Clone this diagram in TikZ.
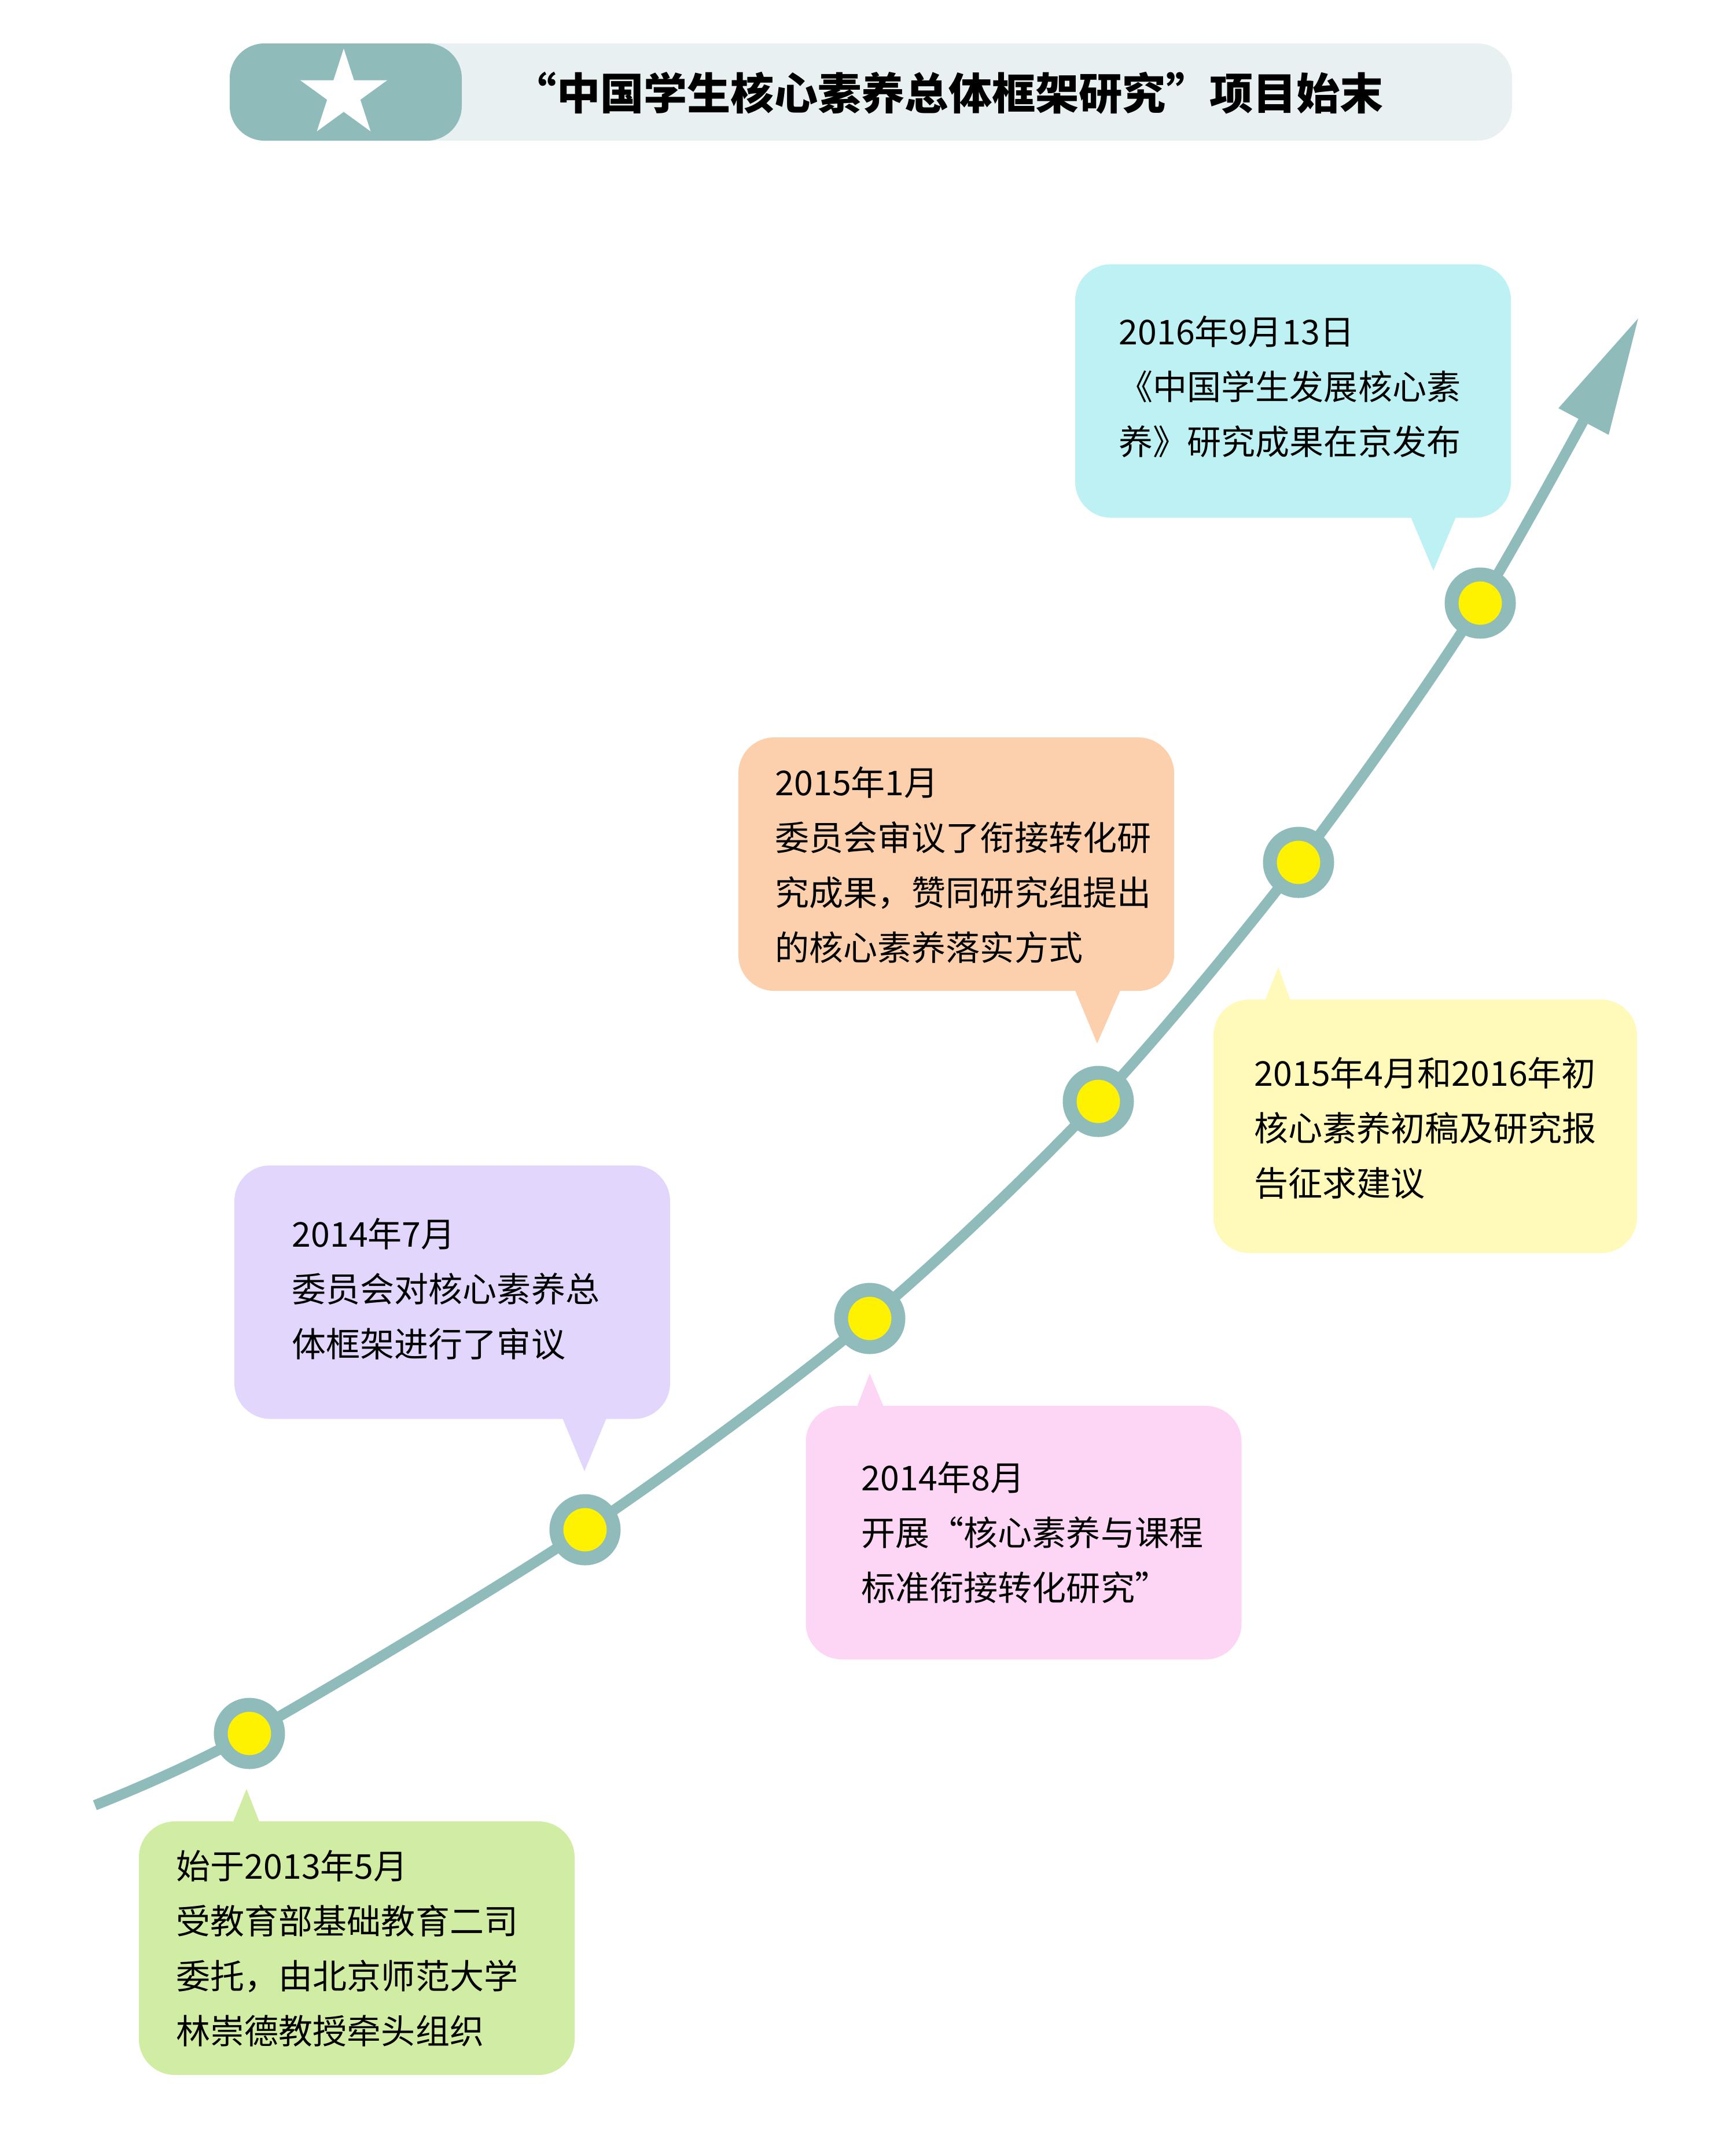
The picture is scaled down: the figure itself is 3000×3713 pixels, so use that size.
\documentclass[tikz,border=0pt]{standalone}
\usepackage{fontspec}
\setmainfont{Noto Sans CJK SC}
\usetikzlibrary{shapes.geometric,arrows.meta}
\definecolor{trackteal}{HTML}{8FBBBB}
\definecolor{barlight}{HTML}{E8F0F2}
\definecolor{dotyellow}{HTML}{FFF200}
\definecolor{boxgreen}{HTML}{D1EDA4}
\definecolor{boxpurple}{HTML}{E2D6FD}
\definecolor{boxpink}{HTML}{FDD6F6}
\definecolor{boxorange}{HTML}{FDD0AD}
\definecolor{boxyellow}{HTML}{FFFAB9}
\definecolor{boxcyan}{HTML}{BDF1F3}
\begin{document}
\begin{tikzpicture}[
  x=0.1mm, y=-0.1mm,
  bubble/.style={rectangle, rounded corners=6.2mm, minimum width=75.3mm, minimum height=43.8mm, inner sep=0pt},
  caption/.style={anchor=base west, align=left, inner sep=0pt, font=\fontsize{16.8pt}{27pt}\selectfont},
  milestone/.style={circle, draw=trackteal, line width=2.4mm, fill=dotyellow, minimum size=9.9mm, inner sep=0pt},
  banner/.style={rectangle, rounded corners=6mm, minimum height=16.8mm, inner sep=0pt}
]
\useasboundingbox (0,0) rectangle (3000,3713);
\node[banner, fill=barlight, minimum width=221.6mm] (bar) at (1505,159) {};
\node[banner, fill=trackteal, minimum width=40.1mm] (badge) at (597.5,159) {};
\node[star, star points=5, star point ratio=2.618, fill=white, minimum size=15.8mm, inner sep=0pt] (icon) at (594,163) {};
\node[font=\bfseries\fontsize{21.4pt}{25pt}\selectfont, inner sep=0pt] (title) at (1639,161) {“中国学生核心素养总体框架研究”项目始末};

\node[bubble, fill=boxgreen] (b13) at (616.5,3366) {};
\fill[boxgreen] (401,3152) -- (426,3091) -- (450,3152) -- cycle;
\node[bubble, fill=boxpurple] (b14a) at (781.5,2232.5) {};
\fill[boxpurple] (971,2448) -- (1010,2542) -- (1049,2448) -- cycle;
\node[bubble, fill=boxpink] (b14b) at (1769,2648) {};
\fill[boxpink] (1480,2433) -- (1503,2373) -- (1528,2433) -- cycle;
\node[bubble, fill=boxorange] (b15a) at (1652.5,1493) {};
\fill[boxorange] (1857,1709) -- (1896,1803) -- (1937,1709) -- cycle;
\node[bubble, fill=boxyellow, minimum width=73.2mm] (b15b) at (2463,1946) {};
\fill[boxyellow] (2185,1731) -- (2209,1671) -- (2231,1731) -- cycle;
\node[bubble, fill=boxcyan] (b16) at (2234.5,675.5) {};
\fill[boxcyan] (2437,891) -- (2477,986) -- (2517,891) -- cycle;

\coordinate (start) at (164,3119);
\coordinate (m1) at (431,2995);
\coordinate (m2) at (1011,2643);
\coordinate (m3) at (1503,2278);
\coordinate (m4) at (1898,1903);
\coordinate (m5) at (2244,1490);
\coordinate (m6) at (2558,1042);
\coordinate (tip) at (2832,548);
\draw[trackteal, line width=1.8mm, -{Triangle[length=20.4mm, width=9.3mm]}] plot[smooth] coordinates {(start) (m1) (m2) (m3) (m4) (m5) (m6) (tip)};
\foreach \m in {1,...,6}
  \node[milestone] (dot\m) at (m\m) {};

\node[caption] (c13) at (304,3531) {始于2013年5月\\受教育部基础教育二司\\委托，由北京师范大学\\林崇德教授牵头组织};
\node[caption] (c14a) at (504,2344) {2014年7月\\委员会对核心素养总\\体框架进行了审议};
\node[caption] (c14b) at (1488,2765) {2014年8月\\开展“核心素养与课程\\标准衔接转化研究”};
\node[caption] (c15a) at (1339,1659) {2015年1月\\委员会审议了衔接转化研\\究成果，赞同研究组提出\\的核心素养落实方式};
\node[caption] (c15b) at (2167,2066) {2015年4月和2016年初\\核心素养初稿及研究报\\告征求建议};
\node[caption] (c16) at (1933,785) {2016年9月13日\\《中国学生发展核心素\\养》研究成果在京发布};
\end{tikzpicture}
\end{document}
